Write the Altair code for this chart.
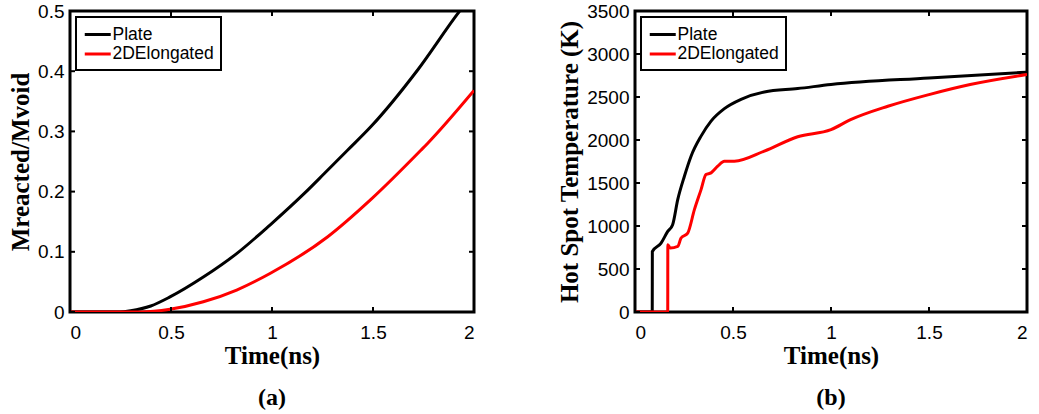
import altair as alt
import pandas as pd

# ---- data -------------------------------------------------------------
series_names = ["Plate", "2DElongated"]
series_colors = ["#000000", "#ff0000"]

# (a) reacted mass fraction vs time
plate_a_t = [0, 0.25, 0.30, 0.40, 0.495, 0.66, 0.825, 0.99, 1.16, 1.259, 1.375, 1.49, 1.721, 1.927, 2.0]
plate_a_v = [0, 0, 0.002, 0.010, 0.025, 0.058, 0.097, 0.1445, 0.197, 0.230, 0.269, 0.308, 0.402, 0.499, 0.53]
elong_a_t = [0, 0.35, 0.495, 0.66, 0.825, 0.99, 1.276, 1.49, 1.738, 1.77, 2.0]
elong_a_v = [0, 0, 0.0045, 0.017, 0.0365, 0.064, 0.125, 0.187, 0.269, 0.280, 0.368]

# (b) hot spot temperature vs time
plate_b_t = [0, 0.088, 0.0885, 0.133, 0.167, 0.192, 0.218, 0.252, 0.286, 0.337, 0.388, 0.456,
             0.541, 0.66, 0.83, 1.0, 1.5, 2.0]
plate_b_v = [0, 0, 704, 801, 937, 1015, 1307, 1579, 1812, 2045, 2220, 2365,
             2473, 2559, 2598, 2645, 2722, 2789]
elong_b_t = [0, 0.167, 0.1675, 0.18, 0.218, 0.235, 0.269, 0.303, 0.337, 0.362, 0.388, 0.422,
             0.456, 0.507, 0.66, 0.83, 1.0, 1.10, 1.29, 1.5, 1.71, 2.0]
elong_b_v = [0, 0, 782, 743, 762, 860, 918, 1190, 1423, 1598, 1618, 1695,
             1754, 1754, 1871, 2038, 2120, 2236, 2392, 2528, 2645, 2761]

x_ticks = [0, 0.5, 1, 1.5, 2]
y_ticks_a = [0, 0.1, 0.2, 0.3, 0.4, 0.5]
y_ticks_b = [0, 500, 1000, 1500, 2000, 2500, 3000, 3500]

W_A, W_B, H = 404, 392, 301
TICK = 5

# legend line sample: a horizontal stroke drawn as a custom symbol path
LEGEND_LINE = "M-1.486,0H1.486"


def frame(pairs):
    rows = []
    for name, ts, vs in pairs:
        for i, (t, v) in enumerate(zip(ts, vs)):
            rows.append({"series": name, "t": t, "v": v, "idx": i})
    return pd.DataFrame(rows)


def panel(df, width, y_domain, y_ticks, y_title, y_format, caption):
    x_enc = alt.X("t:Q", scale=alt.Scale(domain=[0, 2], nice=False, zero=False),
                  axis=alt.Axis(values=x_ticks, format="~g", title="Time(ns)"))
    y_enc = alt.Y("v:Q", scale=alt.Scale(domain=y_domain, nice=False, zero=False),
                  axis=alt.Axis(values=y_ticks, format=y_format, title=y_title))

    lines = alt.Chart(df).mark_line(strokeWidth=3, clip=True, interpolate="monotone").encode(
        x=x_enc,
        y=y_enc,
        color=alt.Color(
            "series:N",
            scale=alt.Scale(domain=series_names, range=series_colors),
            legend=alt.Legend(
                title=None, orient="none", legendX=6, legendY=6,
                symbolType=LEGEND_LINE, symbolStrokeWidth=3, symbolSize=306,
                symbolOffset=4.25, symbolFillColor="transparent",
                labelFont="Liberation Sans", labelFontSize=17.5, labelColor="black",
                labelOffset=4.25, strokeColor="black", fillColor="white",
                padding=7, rowPadding=0.5,
            ),
        ),
        order="idx:Q",
    )

    # inward tick marks on all four sides of the box
    xt = pd.DataFrame({"t": x_ticks})
    yt = pd.DataFrame({"v": y_ticks})
    ticks_top = alt.Chart(xt).mark_rule(strokeWidth=2, color="black").encode(
        x=x_enc, y=alt.value(0), y2=alt.value(TICK))
    ticks_bot = alt.Chart(xt).mark_rule(strokeWidth=2, color="black").encode(
        x=x_enc, y=alt.value(H), y2=alt.value(H - TICK))
    ticks_left = alt.Chart(yt).mark_rule(strokeWidth=2, color="black").encode(
        y=y_enc, x=alt.value(0), x2=alt.value(TICK))
    ticks_right = alt.Chart(yt).mark_rule(strokeWidth=2, color="black").encode(
        y=y_enc, x=alt.value(width), x2=alt.value(width - TICK))

    return alt.layer(lines, ticks_top, ticks_bot, ticks_left, ticks_right).properties(
        width=width, height=H,
        title=alt.TitleParams(caption, orient="bottom", font="Liberation Serif",
                              fontSize=24, fontWeight="bold", color="black", offset=18),
    )


df_a = frame([("Plate", plate_a_t, plate_a_v), ("2DElongated", elong_a_t, elong_a_v)])
df_b = frame([("Plate", plate_b_t, plate_b_v), ("2DElongated", elong_b_t, elong_b_v)])

left = panel(df_a, W_A, [0, 0.5], y_ticks_a, "Mreacted/Mvoid", "~g", "(a)")
right = panel(df_b, W_B, [0, 3500], y_ticks_b, "Hot Spot Temperature (K)", "d", "(b)")

chart = alt.hconcat(left, right, spacing=161, bounds="flush").resolve_scale(
    x="independent", y="independent", color="independent"
).resolve_legend(color="independent").properties(
    padding={"left": 7, "top": 0, "right": 2, "bottom": 2},
    background="white",
).configure_view(
    stroke="black", strokeWidth=3
).configure_axis(
    labelFont="Liberation Sans", labelFontSize=19, labelColor="black",
    titleFont="Liberation Serif", titleFontSize=25, titleFontWeight="bold",
    titleColor="black", tickSize=0, domain=False, grid=False,
).configure_axisX(
    labelPadding=11, titlePadding=1
).configure_axisY(
    labelPadding=6, titlePadding=4
).configure_legend(
    strokeWidth=2
)

chart.save("out.html", embed_options={"renderer": "svg", "actions": False})
